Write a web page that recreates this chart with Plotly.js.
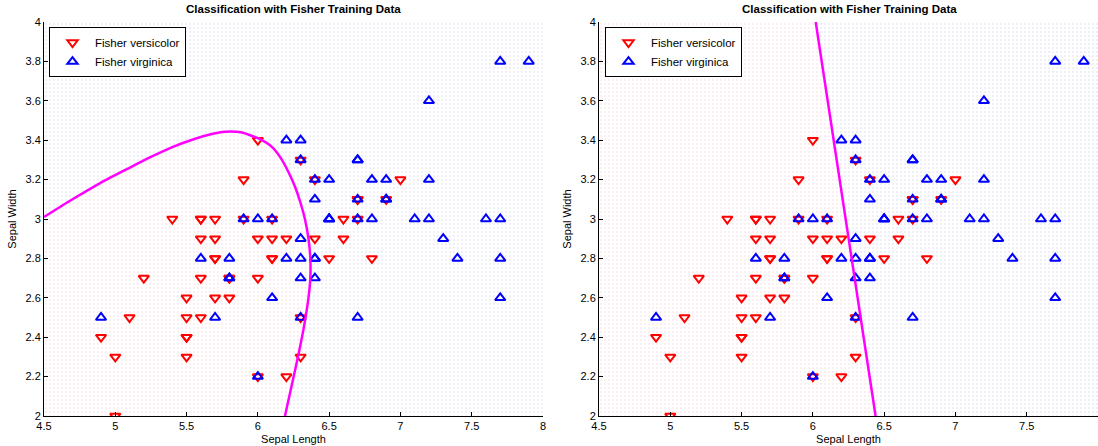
<!DOCTYPE html>
<html>
<head>
<meta charset="utf-8">
<script src="https://cdn.plot.ly/plotly-3.0.1.min.js"></script>
<style>html,body{margin:0;padding:0;background:#fff;}#chart{width:1098px;height:446px;}</style>
</head>
<body>
<div id="chart"></div>
<script>
// Fisher iris data: sepal length / sepal width
const versicolorX = [7.0,6.4,6.9,5.5,6.5,5.7,6.3,4.9,6.6,5.2,5.0,5.9,6.0,6.1,5.6,6.7,5.6,5.8,6.2,5.6,5.9,6.1,6.3,6.1,6.4,6.6,6.8,6.7,6.0,5.7,5.5,5.5,5.8,6.0,5.4,6.0,6.7,6.3,5.6,5.5,5.5,6.1,5.8,5.0,5.6,5.7,5.7,6.2,5.1,5.7];
const versicolorY = [3.2,3.2,3.1,2.3,2.8,2.8,3.3,2.4,2.9,2.7,2.0,3.0,2.2,2.9,2.9,3.1,3.0,2.7,2.2,2.5,3.2,2.8,2.5,2.8,2.9,3.0,2.8,3.0,2.9,2.6,2.4,2.4,2.7,2.7,3.0,3.4,3.1,2.3,3.0,2.5,2.6,3.0,2.6,2.3,2.7,3.0,2.9,2.9,2.5,2.8];
const virginicaX = [6.3,5.8,7.1,6.3,6.5,7.6,4.9,7.3,6.7,7.2,6.5,6.4,6.8,5.7,5.8,6.4,6.5,7.7,7.7,6.0,6.9,5.6,7.7,6.3,6.7,7.2,6.2,6.1,6.4,7.2,7.4,7.9,6.4,6.3,6.1,7.7,6.3,6.4,6.0,6.9,6.7,6.9,5.8,6.8,6.7,6.7,6.3,6.5,6.2,5.9];
const virginicaY = [3.3,2.7,3.0,2.9,3.0,3.0,2.5,2.9,2.5,3.6,3.2,2.7,3.0,2.5,2.8,3.2,3.0,3.8,2.6,2.2,3.2,2.8,2.8,2.7,3.3,3.2,2.8,3.0,2.8,3.0,2.8,3.8,2.8,2.8,2.6,3.0,3.4,3.1,3.0,3.1,3.1,3.1,2.7,3.2,3.3,3.0,2.5,3.0,3.4,3.0];

// Quadratic boundary (left)
const quadX = [4.50,4.70,4.90,5.10,5.25,5.40,5.55,5.67,5.77,5.88,6.00,6.10,6.16,6.21,6.26,6.30,6.33,6.355,6.368,6.368,6.355,6.325,6.29,6.245,6.19];
const quadY = [3.01,3.10,3.185,3.26,3.315,3.365,3.405,3.43,3.443,3.44,3.41,3.365,3.31,3.245,3.165,3.08,3.00,2.90,2.80,2.70,2.60,2.46,2.33,2.18,2.00];
// Linear boundary (right)
const linX = [6.02,6.44];
const linY = [4.0,2.0];

const xRange = [4.5,8];
const yRange = [2,4];
const xTicks = [4.5,5,5.5,6,6.5,7,7.5,8];
const xTickText = ['4.5','5','5.5','6','6.5','7','7.5','8'];
const yTicks = [2,2.2,2.4,2.6,2.8,3,3.2,3.4,3.6,3.8,4];
const yTickText = ['2','2.2','2.4','2.6','2.8','3','3.2','3.4','3.6','3.8','4'];
const titleText = 'Classification with Fisher Training Data';
const names = ['Fisher versicolor','Fisher virginica'];

const pinkPat = {shape:'.', fgcolor:'#f7d3d9', bgcolor:'rgba(255,255,255,0)', size:4, solidity:0.1};
const bluePat = {shape:'.', fgcolor:'#d6d6f3', bgcolor:'rgba(255,255,255,0)', size:4, solidity:0.1};

function regions(bx, by, xa, ya) {
  // versicolor side: left / below boundary
  const vx = [xRange[0], xRange[0]].concat(bx);
  const vy = [yRange[0], by[0]].concat(by);
  // virginica side: right / above boundary
  const gx = bx.concat([xRange[1], xRange[1], xRange[0], xRange[0]]);
  const gy = by.concat([yRange[0], yRange[1], yRange[1], by[0]]);
  const common = {type:'scatter', mode:'lines', fill:'toself', line:{width:0, color:'rgba(0,0,0,0)'}, fillcolor:'rgba(0,0,0,0)', showlegend:false, hoverinfo:'skip', xaxis:xa, yaxis:ya};
  return [
    Object.assign({}, common, {x:vx, y:vy, fillpattern:pinkPat}),
    Object.assign({}, common, {x:gx, y:gy, fillpattern:bluePat})
  ];
}

function pts(xa, ya, leg) {
  return [
    {type:'scatter', mode:'markers', x:versicolorX, y:versicolorY, name:names[0], xaxis:xa, yaxis:ya, legend:leg,
     marker:{symbol:'triangle-down-open', size:9, color:'#ff0000', line:{width:2, color:'#ff0000'}}},
    {type:'scatter', mode:'markers', x:virginicaX, y:virginicaY, name:names[1], xaxis:xa, yaxis:ya, legend:leg,
     marker:{symbol:'triangle-up-open', size:9, color:'#0000ff', line:{width:2, color:'#0000ff'}}}
  ];
}

const traces = []
  .concat(regions(quadX, quadY, 'x', 'y'))
  .concat(regions(linX, linY, 'x2', 'y2'))
  .concat(pts('x', 'y', 'legend'))
  .concat(pts('x2', 'y2', 'legend2'))
  .concat([
    {type:'scatter', mode:'lines', x:quadX, y:quadY, xaxis:'x', yaxis:'y', showlegend:false, hoverinfo:'skip',
     line:{color:'#ff00ff', width:2.5, shape:'spline', smoothing:0.6}},
    {type:'scatter', mode:'lines', x:linX, y:linY, xaxis:'x2', yaxis:'y2', showlegend:false, hoverinfo:'skip',
     line:{color:'#ff00ff', width:2.5}}
  ]);

const fam = '"Liberation Sans", Arial, sans-serif';
const font = {family:fam, size:11, color:'#000'};
const titleFont = {family:fam, size:11.5, color:'#000'};
const legFont = {family:fam, size:11.5, color:'#000'};
function xax(dom, anchor) {
  return {domain:dom, anchor:anchor, range:xRange, tickvals:xTicks, ticktext:xTickText, ticks:'inside', ticklen:4,
    tickcolor:'#000', showline:true, linecolor:'#000', linewidth:1, showgrid:false, zeroline:false, automargin:false,
    tickfont:font, title:{text:'Sepal Length', font:font, standoff:4}, fixedrange:true};
}
function yax(anchor) {
  return {domain:[0,1], anchor:anchor, range:yRange, tickvals:yTicks, ticktext:yTickText, ticks:'inside', ticklen:4,
    tickcolor:'#000', showline:true, linecolor:'#000', linewidth:1, showgrid:false, zeroline:false, automargin:false,
    tickfont:font, title:{text:'Sepal Width', font:font, standoff:6}, fixedrange:true};
}

const legendCommon = {bgcolor:'#fff', bordercolor:'#000', borderwidth:1, font:legFont, xanchor:'left', yanchor:'top',
  tracegroupgap:0, itemwidth:35, xref:'paper', yref:'paper'};

const layout = {
  width:1098, height:446,
  margin:{l:0, r:0, t:22, b:30, pad:0},
  paper_bgcolor:'#fff', plot_bgcolor:'#fff',
  font:font,
  xaxis:xax([44/1098, 543/1098], 'y'),
  yaxis:yax('x'),
  xaxis2:xax([599/1098, 1], 'y2'),
  yaxis2:yax('x2'),
  legend:Object.assign({}, legendCommon, {x:49/1098, y:0.987}),
  legend2:Object.assign({}, legendCommon, {x:605/1098, y:0.987}),
  annotations:[
    {text:'<b>'+titleText+'</b>', xref:'paper', yref:'paper', x:(44+543)/2/1098, y:1.033, xanchor:'center', yanchor:'middle', showarrow:false, font:titleFont},
    {text:'<b>'+titleText+'</b>', xref:'paper', yref:'paper', x:(599+1099)/2/1098, y:1.033, xanchor:'center', yanchor:'middle', showarrow:false, font:titleFont}
  ],
  showlegend:true
};

Plotly.newPlot('chart', traces, layout, {displayModeBar:false, staticPlot:true});
</script>
</body>
</html>
